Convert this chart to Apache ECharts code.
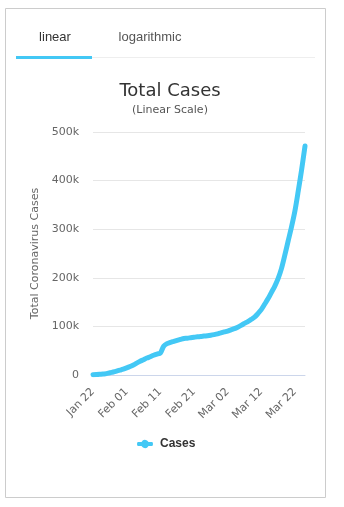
<!DOCTYPE html>
<html>
<head>
<meta charset="utf-8">
<script src="https://cdn.jsdelivr.net/npm/echarts@6/dist/echarts.min.js"></script>
<style>
  html, body { margin: 0; padding: 0; background: #fff; }
  #chart { width: 344px; height: 507px; }
</style>
</head>
<body>
<div id="chart"></div>
<script>
// Daily dates, Jan 22 – Mar 25, 2020
const dates = [
  'Jan 22','Jan 23','Jan 24','Jan 25','Jan 26','Jan 27','Jan 28','Jan 29','Jan 30','Jan 31',
  'Feb 01','Feb 02','Feb 03','Feb 04','Feb 05','Feb 06','Feb 07','Feb 08','Feb 09','Feb 10',
  'Feb 11','Feb 12','Feb 13','Feb 14','Feb 15','Feb 16','Feb 17','Feb 18','Feb 19','Feb 20',
  'Feb 21','Feb 22','Feb 23','Feb 24','Feb 25','Feb 26','Feb 27','Feb 28','Feb 29','Mar 01',
  'Mar 02','Mar 03','Mar 04','Mar 05','Mar 06','Mar 07','Mar 08','Mar 09','Mar 10','Mar 11',
  'Mar 12','Mar 13','Mar 14','Mar 15','Mar 16','Mar 17','Mar 18','Mar 19','Mar 20','Mar 21',
  'Mar 22','Mar 23','Mar 24','Mar 25'
];

// Cumulative cases
const cases = [
  580, 845, 1317, 2015, 2800, 4581, 6058, 7813, 9823, 11950,
  14553, 17391, 20630, 24545, 28266, 31439, 34876, 37552, 40553, 43099,
  45134, 59287, 64438, 67100, 69197, 71329, 73332, 75184, 75700, 76677,
  77673, 78651, 79205, 80087, 80828, 81820, 83112, 84615, 86604, 88585,
  90443, 93016, 95314, 98425, 102050, 106099, 109991, 114381, 118948, 126214,
  134576, 145483, 156653, 169593, 182490, 198238, 218822, 246525, 275856, 305036,
  337489, 378830, 422574, 471035
];

const yTicks = [0, 100000, 200000, 300000, 400000, 500000];
const tabLabels = ['linear', 'logarithmic'];

const chart = echarts.init(document.getElementById('chart'), null, { renderer: 'canvas' });

const lineColor = '#43c8f5';

chart.setOption({
  animation: false,
  backgroundColor: '#ffffff',
  title: {
    text: 'Total Cases',
    subtext: '(Linear Scale)',
    left: 165,
    textAlign: 'center',
    top: 77,
    itemGap: 5,
    textStyle: { fontFamily: 'DejaVu Sans', fontSize: 18, fontWeight: 'normal', color: '#333333' },
    subtextStyle: { fontFamily: 'DejaVu Sans', fontSize: 11, color: '#555555' }
  },
  legend: {
    top: 438,
    left: 137,
    padding: 0,
    itemWidth: 16,
    itemHeight: 8,
    itemGap: 5,
    // thick line with a round marker in the middle
    icon: 'path://M1,2 L4.54,2 A4,4 0 0 1 11.46,2 L15,2 Q16,2 16,4 Q16,6 15,6 L11.46,6 A4,4 0 0 1 4.54,6 L1,6 Q0,6 0,4 Q0,2 1,2 Z',
    textStyle: { fontFamily: 'Liberation Sans', fontSize: 12, fontWeight: 'bold', color: '#333333', padding: [0, 0, 0, 2] },
    data: ['Cases']
  },
  grid: { left: 93, right: 39, top: 132, bottom: 132 },
  xAxis: {
    type: 'category',
    data: dates,
    boundaryGap: false,
    axisLine: { lineStyle: { color: '#ccd6eb' } },
    axisTick: { show: false },
    axisLabel: {
      interval: 9,
      rotate: 45,
      margin: 15,
      fontFamily: 'DejaVu Sans',
      fontSize: 11,
      color: '#666666'
    }
  },
  yAxis: {
    type: 'value',
    min: 0,
    max: 500000,
    interval: 100000,
    name: 'Total Coronavirus Cases',
    nameLocation: 'middle',
    nameGap: 49,
    nameTextStyle: { fontFamily: 'DejaVu Sans', fontSize: 11, color: '#666666' },
    axisLine: { show: false },
    axisTick: { show: false },
    splitLine: { lineStyle: { color: '#e6e6e6' } },
    axisLabel: {
      margin: 14,
      fontFamily: 'DejaVu Sans',
      fontSize: 11,
      color: '#666666',
      formatter: v => yTicks.includes(v) ? (v === 0 ? '0' : (v / 1000) + 'k') : ''
    }
  },
  series: [{
    name: 'Cases',
    type: 'line',
    data: cases,
    smooth: 0.3,
    showSymbol: false,
    symbol: 'circle',
    itemStyle: { color: lineColor },
    lineStyle: { color: lineColor, width: 5, cap: 'round', join: 'round' }
  }],
  graphic: [
    {
      type: 'rect',
      shape: { x: 5.5, y: 8.5, width: 320, height: 489 },
      style: { fill: 'none', stroke: '#cccccc', lineWidth: 1 },
      silent: true
    },
    {
      type: 'line',
      shape: { x1: 16, y1: 57.5, x2: 315, y2: 57.5 },
      style: { stroke: '#eeeeee', lineWidth: 1 },
      silent: true
    },
    {
      type: 'rect',
      shape: { x: 16, y: 56, width: 76, height: 3 },
      style: { fill: lineColor },
      silent: true
    },
    {
      type: 'text',
      x: 55, y: 37,
      style: {
        text: tabLabels[0], fontFamily: 'Liberation Sans', fontSize: 13,
        fill: '#333333', align: 'center', verticalAlign: 'middle'
      }
    },
    {
      type: 'text',
      x: 150, y: 37,
      style: {
        text: tabLabels[1], fontFamily: 'Liberation Sans', fontSize: 13,
        fill: '#555555', align: 'center', verticalAlign: 'middle'
      }
    }
  ]
});
</script>
</body>
</html>
